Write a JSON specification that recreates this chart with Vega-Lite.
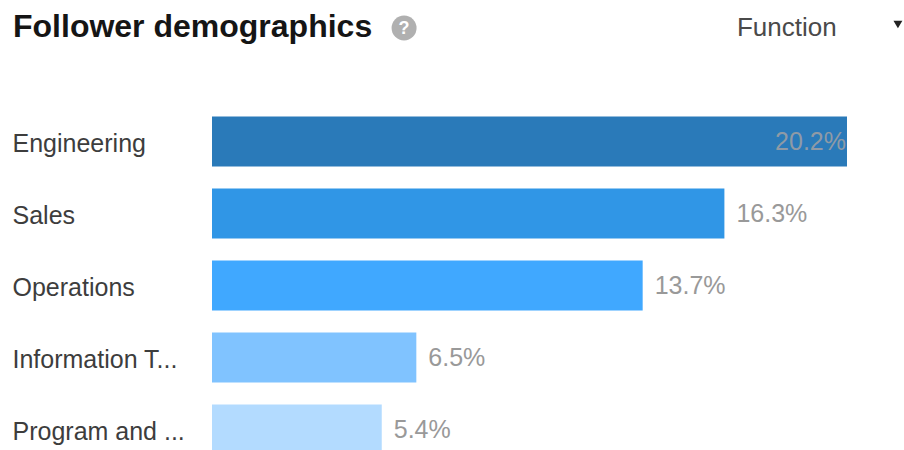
{
  "$schema": "https://vega.github.io/schema/vega-lite/v6.json",
  "autosize": {"type": "none"},
  "width": 635,
  "height": 334,
  "padding": {"left": 212, "right": 57, "top": 116, "bottom": 0},
  "background": "white",
  "view": {"stroke": null},
  "title": {
    "text": "Follower demographics",
    "anchor": "start",
    "frame": "group",
    "dx": -199,
    "offset": -29,
    "font": "Liberation Sans",
    "fontSize": 32,
    "fontWeight": "bold",
    "color": "#151515"
  },
  "data": {"values": [
    {"fn": "Engineering", "pct": 20.2, "label": "20.2%"},
    {"fn": "Sales", "pct": 16.3, "label": "16.3%"},
    {"fn": "Operations", "pct": 13.7, "label": "13.7%"},
    {"fn": "Information T...", "pct": 6.5, "label": "6.5%"},
    {"fn": "Program and ...", "pct": 5.4, "label": "5.4%"}
  ]},
  "encoding": {
    "y": {
      "field": "fn",
      "type": "nominal",
      "sort": null,
      "scale": {
        "type": "point",
        "padding": 0,
        "domain": ["header", "Engineering", "Sales", "Operations", "Information T...", "Program and ..."],
        "range": [-46.5, 313.5]
      },
      "axis": {
        "title": null,
        "values": ["Engineering", "Sales", "Operations", "Information T...", "Program and ..."],
        "domain": false,
        "ticks": false,
        "grid": false,
        "labelAlign": "left",
        "labelPadding": 200,
        "labelOffset": 2,
        "labelFont": "Liberation Sans",
        "labelFontSize": 25,
        "labelColor": "#3d3d3d",
        "labelLimit": 210
      }
    }
  },
  "layer": [
    {
      "mark": {"type": "bar", "height": 50},
      "encoding": {
        "x": {
          "field": "pct",
          "type": "quantitative",
          "scale": {"domain": [0, 20.2], "range": [0, 635]},
          "axis": null
        },
        "color": {
          "field": "fn",
          "type": "nominal",
          "legend": null,
          "scale": {
            "domain": ["Engineering", "Sales", "Operations", "Information T...", "Program and ..."],
            "range": ["#2a7ab9", "#3096e6", "#40a8ff", "#80c3ff", "#b3dbff"]
          }
        }
      }
    },
    {
      "transform": [{"filter": "datum.pct < 20"}],
      "mark": {"type": "text", "align": "left", "baseline": "middle", "dx": 12, "font": "Liberation Sans", "fontSize": 25, "fill": "#999999"},
      "encoding": {
        "x": {"field": "pct", "type": "quantitative", "axis": null, "scale": {"domain": [0, 20.2], "range": [0, 635]}},
        "text": {"field": "label"}
      }
    },
    {
      "transform": [{"filter": "datum.pct >= 20"}],
      "mark": {"type": "text", "align": "right", "baseline": "middle", "dx": -1, "font": "Liberation Sans", "fontSize": 25, "fill": "#8f9aa6"},
      "encoding": {
        "x": {"field": "pct", "type": "quantitative", "axis": null, "scale": {"domain": [0, 20.2], "range": [0, 635]}},
        "text": {"field": "label"}
      }
    },
    {
      "data": {"values": [{"fn": "header", "name": "Function"}]},
      "mark": {"type": "text", "align": "left", "baseline": "middle", "dy": -42, "font": "Liberation Sans", "fontSize": 26, "fill": "#4a4a4a"},
      "encoding": {
        "x": {"datum": 16.7, "type": "quantitative", "axis": null, "scale": {"domain": [0, 20.2], "range": [0, 635]}},
        "text": {"field": "name"}
      }
    },
    {
      "data": {"values": [{"fn": "header"}]},
      "mark": {"type": "point", "shape": "circle", "filled": true, "opacity": 1, "size": 625, "color": "#b0b0b0"},
      "encoding": {
        "x": {"datum": 6.11, "type": "quantitative", "axis": null, "scale": {"domain": [0, 20.2], "range": [0, 635]}},
        "yOffset": {"value": -41.5}
      }
    },
    {
      "data": {"values": [{"fn": "header", "glyph": "?"}]},
      "mark": {"type": "text", "align": "center", "baseline": "middle", "dy": -41, "font": "Liberation Sans", "fontWeight": "bold", "fontSize": 18, "fill": "#ffffff"},
      "encoding": {
        "x": {"datum": 6.11, "type": "quantitative", "axis": null, "scale": {"domain": [0, 20.2], "range": [0, 635]}},
        "text": {"field": "glyph"}
      }
    },
    {
      "data": {"values": [{"fn": "header"}]},
      "mark": {"type": "point", "shape": "triangle-down", "filled": true, "opacity": 1, "size": 80, "color": "#222222"},
      "encoding": {
        "x": {"datum": 21.82, "type": "quantitative", "axis": null, "scale": {"domain": [0, 20.2], "range": [0, 635]}},
        "yOffset": {"value": -45}
      }
    }
  ]
}
